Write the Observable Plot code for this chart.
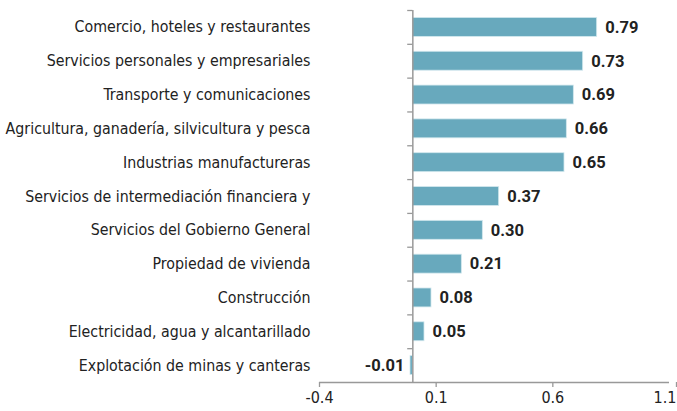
<!DOCTYPE html>
<html>
<head>
<meta charset="utf-8">
<script src="https://cdn.jsdelivr.net/npm/d3@7"></script>
<script src="https://cdn.jsdelivr.net/npm/@observablehq/plot@0.6"></script>
<style>
  html, body { margin: 0; padding: 0; background: #fff; }
  #chart svg { display: block; }
</style>
</head>
<body>
<div id="chart"></div>
<script>
const categories = [
  "Comercio, hoteles y restaurantes",
  "Servicios personales y empresariales",
  "Transporte y comunicaciones",
  "Agricultura, ganadería, silvicultura y pesca",
  "Industrias manufactureras",
  "Servicios de intermediación financiera y",
  "Servicios del Gobierno General",
  "Propiedad de vivienda",
  "Construcción",
  "Electricidad, agua y alcantarillado",
  "Explotación de minas y canteras"
];
const values = [0.79, 0.73, 0.69, 0.66, 0.65, 0.37, 0.30, 0.21, 0.08, 0.05, -0.01];
const xTicks = [-0.4, 0.1, 0.6, 1.1];

const data = categories.map((c, i) => ({category: c, value: values[i]}));

const W = 677, H = 411;
const mTop = 10, mBottom = 29, mLeft = 319, mRight = 8;
const step = (H - mTop - mBottom) / categories.length;
const font = "'DejaVu Sans Condensed', 'Liberation Sans Narrow', Roboto, sans-serif";
const boldFont = "Roboto, 'Noto Sans', sans-serif";
const fmt = d => d.toFixed(1);

const chart = Plot.plot({
  width: W,
  height: H,
  marginTop: mTop,
  marginBottom: mBottom,
  marginLeft: mLeft,
  marginRight: mRight,
  style: {fontFamily: font, fontSize: "14px", color: "#222", background: "#fff"},
  x: {domain: [-0.4, 1.1], ticks: xTicks, tickFormat: fmt, label: null},
  y: {domain: categories, paddingInner: 0.44, paddingOuter: 0.22, round: false, label: null},
  marks: [
    Plot.axisY({tickSize: 0, tickPadding: 9, fontSize: 15.8, fill: "#222"}),
    Plot.axisX({ticks: xTicks.slice(0, -1), tickFormat: fmt, tickSize: 5, tickPadding: 4, fontSize: 16, stroke: "#999", strokeWidth: 1.3, fill: "#222", label: null}),
    Plot.axisX({ticks: xTicks.slice(-1), tickFormat: fmt, tickSize: 5, tickPadding: 4, fontSize: 16, stroke: "#999", strokeWidth: 1.3, fill: "#222", textAnchor: "end", dx: 7, label: null}),
    Plot.ruleY([categories[categories.length - 1]], {x1: -0.4, x2: 1.1, dy: step / 2, stroke: "#999", strokeWidth: 1.3}),
    Plot.barX(data, {x: "value", y: "category", fill: "#68a9bd", stroke: "#d3e8ee", strokeWidth: 0.8}),
    Plot.ruleX([0], {stroke: "#999", strokeWidth: 1.5}),
    Plot.ruleY(categories, {y: d => d, x1: -0.022, x2: 0, dy: -step / 2, stroke: "#999", strokeWidth: 1.3}),
    Plot.text(data.filter(d => d.value >= 0), {x: "value", y: "category", text: d => d.value.toFixed(2), textAnchor: "start", dx: 8, fontFamily: boldFont, fontWeight: "bold", fontSize: 16.5, fill: "#222"}),
    Plot.text(data.filter(d => d.value < 0), {x: "value", y: "category", text: d => d.value.toFixed(2), textAnchor: "end", dx: -6, fontFamily: boldFont, fontWeight: "bold", fontSize: 16.5, fill: "#222"})
  ]
});
document.getElementById("chart").appendChild(chart);
</script>
</body>
</html>
